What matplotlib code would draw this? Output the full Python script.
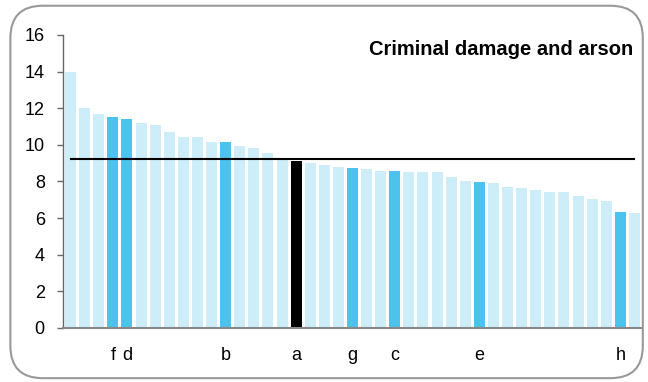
#! /usr/bin/env python

import numpy as np
import matplotlib.pyplot as plt
from matplotlib.patches import FancyBboxPatch

# bar values, sorted high to low
values = [14.0, 12.0, 11.7, 11.5, 11.4, 11.2, 11.1, 10.7, 10.4, 10.4,
          10.15, 10.15, 9.95, 9.8, 9.55, 9.15, 9.1, 9.0, 8.9, 8.8,
          8.75, 8.7, 8.55, 8.55, 8.5, 8.5, 8.5, 8.22, 8.02, 7.98,
          7.9, 7.7, 7.62, 7.55, 7.44, 7.42, 7.2, 7.05, 6.92, 6.35, 6.27]
# highlighted bars and their labels
labels = {3: 'f', 4: 'd', 11: 'b', 16: 'a', 20: 'g', 23: 'c', 29: 'e', 39: 'h'}
average = 9.2
title = 'Criminal damage and arson'

light = '#cdedf9'
dark = '#4bc3ec'

if __name__ == "__main__":
    plt.rcParams['font.family'] = ['Liberation Sans', 'DejaVu Sans']

    fig = plt.figure(figsize=(6.48, 3.82), dpi=100)

    # rounded frame round the whole chart
    frame = FancyBboxPatch((0.016, 0.01), 0.976, 0.975,
                           boxstyle='round,pad=0,rounding_size=0.05',
                           transform=fig.transFigure, facecolor='none',
                           edgecolor='#999999', linewidth=1.5,
                           mutation_aspect=648 / 382, zorder=5)
    fig.patches.append(frame)

    ax = fig.add_axes([0.097, 0.1414, 0.894, 0.7672])
    ax.set_facecolor('none')

    x = np.arange(len(values))
    colors = []
    for i in x:
        if labels.get(i) == 'a':
            colors.append('black')
        elif i in labels:
            colors.append(dark)
        else:
            colors.append(light)
    ax.bar(x, values, width=0.78, color=colors, zorder=2)

    # average line
    ax.plot([0, len(values) - 1], [average, average], color='black',
            linewidth=1.5, zorder=3)

    ax.set_xlim(-0.55, len(values) - 0.45)
    ax.set_ylim(0, 16)
    ax.set_yticks(range(0, 17, 2))
    ax.set_xticks(list(labels.keys()))
    ax.set_xticklabels(list(labels.values()))
    ax.tick_params(axis='x', length=0, pad=14, labelsize=13)
    ax.tick_params(axis='y', length=4, width=1, color='#666666',
                   labelsize=13, pad=9)

    for side in ['top', 'right']:
        ax.spines[side].set_visible(False)
    ax.spines['left'].set_color('#666666')
    ax.spines['bottom'].set_color('#888888')
    ax.spines['left'].set_linewidth(1)
    ax.spines['bottom'].set_linewidth(1.5)

    ax.text(0.985, 0.95, title, transform=ax.transAxes, ha='right',
            va='center', fontsize=14.5, fontweight='bold')

    plt.savefig('out.png', dpi=100)
